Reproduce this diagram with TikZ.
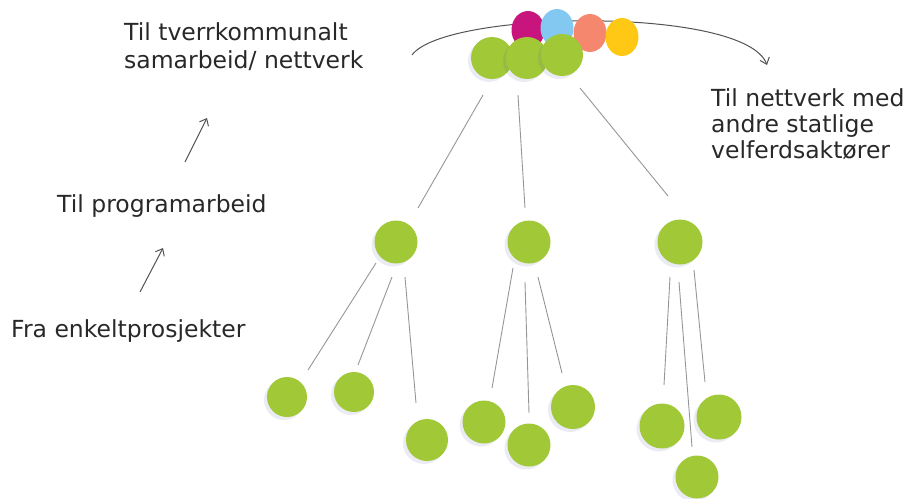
\documentclass[tikz,border=0pt]{standalone}
\usepackage{fontspec}
\setmainfont{DejaVu Sans}
\usetikzlibrary{arrows.meta,shadows,shapes.geometric}
\definecolor{leaf}{RGB}{160,200,55}
\definecolor{txt}{RGB}{40,40,40}
\definecolor{lnk}{RGB}{150,150,150}
\definecolor{cmag}{RGB}{200,20,125}
\definecolor{cblue}{RGB}{130,200,240}
\definecolor{csal}{RGB}{245,135,110}
\definecolor{cyel}{RGB}{255,200,20}
\tikzset{
  ball/.style={circle, fill=leaf, draw=none, minimum size=#1, inner sep=0pt,
    drop shadow={shadow xshift=-3pt, shadow yshift=-3pt, opacity=0.12, fill=blue!30!gray}},
  ball/.default=42pt,
  cball/.style={ellipse, fill=#1, draw=none, minimum width=33pt, minimum height=38pt, inner sep=0pt},
  lbl/.style={text=txt, font=\fontsize{23.5}{26}\selectfont, inner sep=0pt, align=left},
  link/.style={draw=lnk, line width=0.9pt},
  sarrow/.style={draw=txt!80, line width=1pt, -{Straight Barb[length=6pt,width=10pt]}},
}
\begin{document}
\begin{tikzpicture}[x=1pt,y=-1pt]
\useasboundingbox (0,0) rectangle (910,498);
% arc
\coordinate (arcS) at (412,55);
\coordinate (arcE) at (767,65);
\draw[sarrow] (arcS) .. controls (445,10) and (745,6) .. (arcE);
% colored top circles
\node[cball=cmag]  (m) at (528,30) {};
\node[cball=cblue] (b) at (557,28) {};
\node[cball=csal]  (s) at (590,33) {};
\node[cball=cyel]  (y) at (622,37) {};
% green top cluster
\node[ball=42pt] (t1) at (492,58) {};
\node[ball=42pt] (t2) at (527,58) {};
\node[ball=42pt] (t3) at (562,55) {};
% middle level
\node[ball=43pt] (m1) at (396,242) {};
\node[ball=43pt] (m2) at (529,242) {};
\node[ball=45pt] (m3) at (680,242) {};
% bottom level
\node[ball=40pt] (a1) at (287,397) {};
\node[ball=40pt] (a2) at (354,392) {};
\node[ball=42pt] (a3) at (427,440) {};
\node[ball=43pt] (b1) at (484,422) {};
\node[ball=43pt] (b2) at (529,445) {};
\node[ball=44pt] (b3) at (573,407) {};
\node[ball=45pt] (c1) at (662,426) {};
\node[ball=45pt] (c2) at (719,417) {};
\node[ball=43pt] (c3) at (697,477) {};
% link end points
\coordinate (t1o) at (483,95);  \coordinate (m1i) at (418,208);
\coordinate (t2o) at (518,95);  \coordinate (m2i) at (525,208);
\coordinate (t3o) at (580,88);  \coordinate (m3i) at (668,196);
\coordinate (m1a) at (376,263); \coordinate (a1i) at (308,370);
\coordinate (m1b) at (392,277); \coordinate (a2i) at (358,365);
\coordinate (m1c) at (405,277); \coordinate (a3i) at (416,403);
\coordinate (m2a) at (513,268); \coordinate (b1i) at (492,388);
\coordinate (m2b) at (525,282); \coordinate (b2i) at (529,413);
\coordinate (m2c) at (538,277); \coordinate (b3i) at (562,373);
\coordinate (m3a) at (670,277); \coordinate (c1i) at (664,385);
\coordinate (m3b) at (679,282); \coordinate (c3i) at (692,447);
\coordinate (m3c) at (694,270); \coordinate (c2i) at (705,382);
\draw[link] (t1o) -- (m1i);
\draw[link] (t2o) -- (m2i);
\draw[link] (t3o) -- (m3i);
\draw[link] (m1a) -- (a1i);
\draw[link] (m1b) -- (a2i);
\draw[link] (m1c) -- (a3i);
\draw[link] (m2a) -- (b1i);
\draw[link] (m2b) -- (b2i);
\draw[link] (m2c) -- (b3i);
\draw[link] (m3a) -- (c1i);
\draw[link] (m3b) -- (c3i);
\draw[link] (m3c) -- (c2i);
% labels (base anchor = baseline of last line)
\node[lbl, anchor=base west] (ltop) at (124,68) {Til tverrkommunalt\\[2pt]samarbeid/ nettverk};
\node[lbl, anchor=base west] (lprog) at (57,212) {Til programarbeid};
\node[lbl, anchor=base west] (lfra) at (11,337) {Fra enkeltprosjekter};
\node[lbl, anchor=base west] (lright) at (711,158) {Til nettverk med\\andre statlige\\velferdsaktører};
% small arrows
\coordinate (p1s) at (185,162); \coordinate (p1e) at (207,118);
\coordinate (p2s) at (140,292); \coordinate (p2e) at (163,248);
\draw[sarrow] (p1s) -- (p1e);
\draw[sarrow] (p2s) -- (p2e);
\end{tikzpicture}
\end{document}
